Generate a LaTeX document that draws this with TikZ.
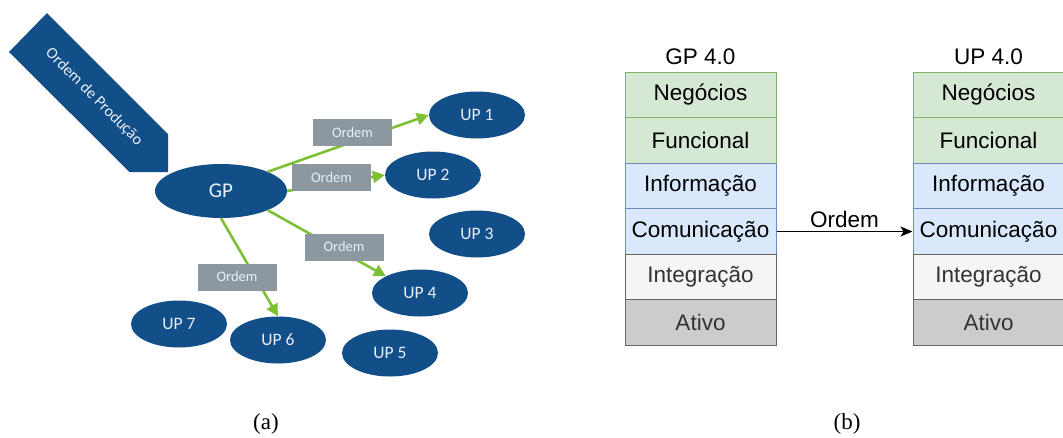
\documentclass[tikz,border=0pt]{standalone}
\usepackage{fontspec}
\setmainfont{Liberation Sans}
\newfontfamily\carlito{Carlito}
\newfontfamily\capfont{Liberation Serif}
\usetikzlibrary{shapes.geometric,arrows.meta}
\definecolor{upblue}{RGB}{18,78,136}
\definecolor{uptext}{RGB}{232,239,246}
\definecolor{ogreen}{RGB}{126,192,52}
\definecolor{obox}{RGB}{140,151,160}
\definecolor{gfill}{HTML}{D5E8D4}
\definecolor{gline}{HTML}{82B366}
\definecolor{bfill}{HTML}{DAE8FC}
\definecolor{bline}{HTML}{6C8EBF}
\definecolor{lfill}{HTML}{F5F5F5}
\definecolor{dfill}{HTML}{CCCCCC}
\definecolor{grline}{HTML}{666666}
\definecolor{grtext}{HTML}{333333}
\tikzset{
  up/.style={ellipse, fill=upblue, draw=none, minimum width=96pt, minimum height=47pt, inner sep=0pt,
    text=uptext, font=\carlito\fontsize{17.5}{20}\selectfont},
  gpnode/.style={up, minimum width=132pt, minimum height=54pt, font=\carlito\fontsize{21}{24}\selectfont},
  obx/.style={rectangle, fill=obox, draw=none, minimum width=79pt, minimum height=27pt, inner sep=0pt,
    text=uptext, font=\carlito\fontsize{14.5}{17}\selectfont},
  garrow/.style={draw=ogreen, line width=2.6pt, -{Triangle[length=12pt,width=12pt]}},
  layer/.style={rectangle, minimum width=151pt, minimum height=45.5pt, inner sep=0pt, line width=1pt,
    font=\fontsize{22.5}{27}\selectfont},
  grn/.style={layer, fill=gfill, draw=gline},
  blu/.style={layer, fill=bfill, draw=bline},
  lgr/.style={layer, fill=lfill, draw=grline, text=grtext},
  dgr/.style={layer, fill=dfill, draw=grline, text=grtext},
  ttl/.style={font=\fontsize{22.5}{27}\selectfont, inner sep=0pt},
  capt/.style={font=\capfont\fontsize{23}{26}\selectfont, inner sep=0pt},
}
\begin{document}
\begin{tikzpicture}[x=1pt,y=-1pt]
\useasboundingbox (0,0) rectangle (1063,437);
% ---- (a) ----
\coordinate (pa) at (47,13);
\coordinate (pb) at (168,134);
\coordinate (pc) at (168,172);
\coordinate (pd) at (129.5,172);
\coordinate (pe) at (9,52);
\fill[upblue] (pa) -- (pb) -- (pc) -- (pd) -- (pe) -- cycle;
\node[rotate=-45, text=uptext, font=\carlito\fontsize{16}{19}\selectfont, inner sep=0pt] (op) at (94,97) {Ordem de Produção};

\node[gpnode] (GP) at (221,191) {GP};
\node[up] (UP1) at (477,115) {UP 1};
\node[up] (UP2) at (433,175) {UP 2};
\node[up] (UP3) at (477,234) {UP 3};
\node[up] (UP4) at (420,293) {UP 4};
\node[up] (UP5) at (390,353) {UP 5};
\node[up] (UP6) at (278,340) {UP 6};
\node[up] (UP7) at (179,324) {UP 7};

\draw[garrow] (GP.north east) -- (UP1.west);
\draw[garrow] (GP.east) -- (UP2.west);
\draw[garrow] (GP.south east) -- (UP4.north west);
\draw[garrow] (GP.south) -- (UP6.north);

\node[obx] (o1) at (352.5,132.5) {Ordem};
\node[obx] (o2) at (331.5,177.5) {Ordem};
\node[obx] (o3) at (344,247) {Ordem};
\node[obx] (o4) at (237,277) {Ordem};

\node[capt] (ca) at (266,424) {(a)};

% ---- (b) ----
\node[ttl] (tg) at (700.5,57) {GP 4.0};
\node[grn] (gN) at (700.5,95) {Negócios};
\node[grn] (gF) at (700.5,140.5) {Funcional};
\node[blu] (gI) at (700.5,186) {Informação};
\node[blu] (gC) at (700.5,231.5) {Comunicação};
\node[lgr] (gT) at (700.5,277) {Integração};
\node[dgr] (gA) at (700.5,322.5) {Ativo};

\node[ttl] (tu) at (988.5,57) {UP 4.0};
\node[grn] (uN) at (988.5,95) {Negócios};
\node[grn] (uF) at (988.5,140.5) {Funcional};
\node[blu] (uI) at (988.5,186) {Informação};
\node[blu] (uC) at (988.5,231.5) {Comunicação};
\node[lgr] (uT) at (988.5,277) {Integração};
\node[dgr] (uA) at (988.5,322.5) {Ativo};

\draw[line width=1.2pt, -{Stealth[length=12pt,width=10pt,inset=3pt]}] (gC.east) -- (uC.west)
  node[midway, above=3pt, font=\fontsize{22.5}{27}\selectfont, inner sep=0pt] (ol) {Ordem};

\node[capt] (cb) at (847,424) {(b)};
\end{tikzpicture}
\end{document}
